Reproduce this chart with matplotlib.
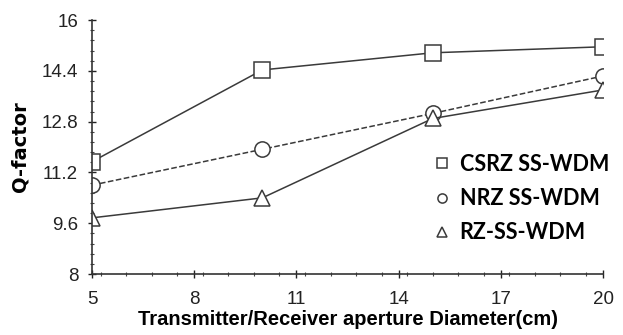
import matplotlib.pyplot as plt
from matplotlib.ticker import MultipleLocator

diameter = [5, 10, 15, 20]
csrz_q = [11.54, 14.43, 14.97, 15.16]
nrz_q = [10.80, 11.93, 13.06, 14.24]
rz_q = [9.77, 10.40, 12.90, 13.80]

y_ticks = [8, 9.6, 11.2, 12.8, 14.4, 16]
y_labels = ["8", "9.6", "11.2", "12.8", "14.4", "16"]
x_ticks = [5, 8, 11, 14, 17, 20]

line_color = "#3a3a3a"

fig = plt.figure(figsize=(6.23, 3.35), dpi=100)
ax = fig.add_axes([0.1477, 0.182, 0.8203, 0.758])

style = dict(color=line_color, linewidth=1.1, markersize=11,
             markerfacecolor="white", markeredgecolor=line_color, markeredgewidth=1.1)
ax.plot(diameter, csrz_q, marker="s", linestyle="-", label="CSRZ SS-WDM", **style)
ax.plot(diameter, nrz_q, marker="o", linestyle="--", label="NRZ SS-WDM", **style)
ax.plot(diameter, rz_q, marker="^", linestyle="-", label="RZ-SS-WDM", **style)

ax.set_xlim(5, 20)
ax.set_ylim(8, 16)
ax.set_xticks(x_ticks)
ax.set_xticklabels([str(t) for t in x_ticks], fontsize=13.5, family="Liberation Sans")
ax.set_yticks(y_ticks)
ax.set_yticklabels(y_labels, fontsize=13.5, family="Liberation Sans")
ax.xaxis.set_minor_locator(MultipleLocator(0.75))
ax.yaxis.set_minor_locator(MultipleLocator(0.32))
ax.tick_params(axis="both", which="major", direction="inout", length=6, width=1, colors="#222222")
ax.tick_params(axis="x", which="major", pad=9)
ax.tick_params(axis="y", which="major", pad=7)
ax.tick_params(axis="both", which="minor", direction="inout", length=3, width=0.8, colors="#444444")

for side in ["top", "right"]:
    ax.spines[side].set_visible(False)
for side in ["left", "bottom"]:
    ax.spines[side].set_color("#333333")
    ax.spines[side].set_linewidth(1.2)

ax.set_xlabel("Transmitter/Receiver aperture Diameter(cm)", fontsize=14.5, fontweight="bold",
              family=["Liberation Sans Narrow", "Liberation Sans"], labelpad=2)
ax.set_ylabel("Q-factor", fontsize=14, fontweight="bold", family="DejaVu Sans", labelpad=9)

leg = ax.legend(loc="upper left", bbox_to_anchor=(0.633, 0.55), frameon=False,
                markerscale=0.6, handlelength=0.7, handletextpad=0.45, labelspacing=0.62,
                prop={"family": "Lato", "weight": "bold", "size": 15.5})
for h in leg.legend_handles:
    h.set_linestyle("None")

fig.savefig("out.png", dpi=100)
